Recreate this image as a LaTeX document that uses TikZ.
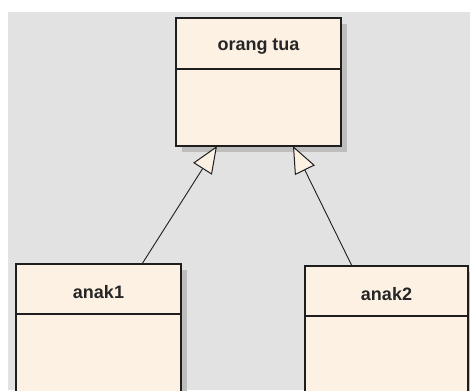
\documentclass[tikz,border=0pt]{standalone}
\usepackage{fontspec}
\setmainfont{Liberation Sans}
\usetikzlibrary{arrows.meta,shadows}
\definecolor{bggray}{HTML}{E2E2E2}
\definecolor{cream}{HTML}{FCF1E3}
\definecolor{shadowgray}{HTML}{BDBDBD}
\definecolor{edge}{HTML}{1E1E1E}
\begin{document}
\begin{tikzpicture}[x=1pt,y=-1pt,
  cls/.style={draw=edge, line width=1.5pt, fill=cream, anchor=north west,
    inner sep=0pt, outer sep=0pt,
    drop shadow={shadow xshift=6pt, shadow yshift=-6pt, fill=shadowgray, opacity=1}},
  lbl/.style={font=\bfseries\fontsize{18}{21}\selectfont, text=black!85, inner sep=0pt},
  divider/.style={draw=edge, line width=1.5pt},
  gen/.style={draw=edge, line width=0.9pt,
    -{Triangle[length=27pt, width=22pt, fill=cream, line width=1pt]}}]
\fill[white] (0,0) rectangle (470,390);
\clip (0,0) rectangle (470,390);
\fill[bggray] (8,12) rectangle (470,390);
% classes
\node[cls, minimum width=165pt, minimum height=128pt] (top) at (176,18) {};
\node[cls, minimum width=165pt, minimum height=150pt] (anak1) at (16,264) {};
\node[cls, minimum width=163pt, minimum height=150pt] (anak2) at (305,266) {};
% dividers
\draw[divider] (top.west |- 0,69) -- (top.east |- 0,69);
\draw[divider] (anak1.west |- 0,314) -- (anak1.east |- 0,314);
\draw[divider] (anak2.west |- 0,316) -- (anak2.east |- 0,316);
% labels
\node[lbl] (toplbl) at (top.north |- 0,47) {orang tua};
\node[lbl] (a1lbl) at (anak1.north |- 0,292) {anak1};
\node[lbl] (a2lbl) at (anak2.north |- 0,294) {anak2};
% generalizations
\draw[gen] ([xshift=126pt]anak1.north west) -- ([xshift=41pt]top.south west);
\draw[gen] ([xshift=47pt]anak2.north west) -- ([xshift=117pt]top.south west);
\end{tikzpicture}
\end{document}
